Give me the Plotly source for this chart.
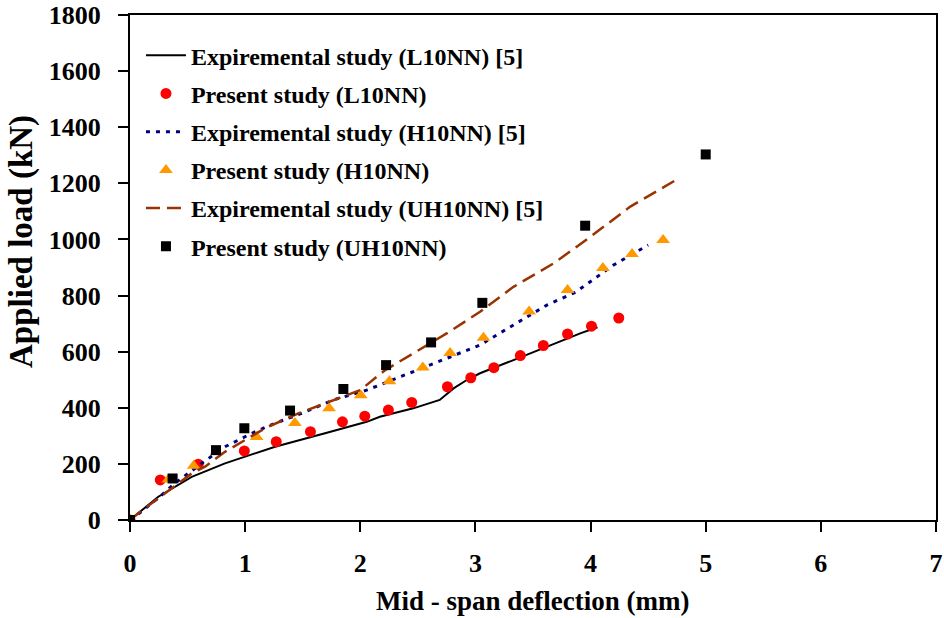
import plotly.graph_objects as go

# Experimental L10NN (solid black)
l10_exp_x = [0, 0.246, 0.536, 0.825, 1.0, 1.26, 1.694, 2.056, 2.17, 2.46, 2.69, 2.81, 2.925, 3.04, 3.33, 3.62, 3.91, 4.06]
l10_exp_y = [0, 83, 154, 202, 226, 261, 309, 350, 368, 398, 428, 469, 499, 523, 570, 618, 665, 687]

# Present study L10NN (red circles)
l10_pre_x = [0, 0.263, 0.593, 0.993, 1.27, 1.567, 1.845, 2.039, 2.244, 2.447, 2.757, 2.96, 3.16, 3.39, 3.59, 3.80, 4.008, 4.245]
l10_pre_y = [0, 143, 199, 246, 279, 315, 350, 370, 392, 419, 475, 507, 543, 586, 622, 663, 691, 720]

# Experimental H10NN (blue dotted)
h10_exp_x = [0, 0.1, 0.275, 0.39, 0.623, 0.825, 1.057, 1.26, 1.49, 1.766, 2.056, 2.2, 2.46, 2.75, 3.04, 3.33, 3.62, 3.87, 4.2, 4.5]
h10_exp_y = [0, 30, 89, 131, 202, 261, 309, 345, 380, 428, 463, 487, 528, 576, 624, 695, 766, 812, 909, 980]

# Present study H10NN (orange triangles)
h10_pre_x = [0, 0.333, 0.553, 0.75, 1.10, 1.432, 1.729, 2.004, 2.253, 2.543, 2.78, 3.07, 3.466, 3.80, 4.107, 4.36, 4.63]
h10_pre_y = [0, 144, 193, 243, 296, 346, 398, 445, 495, 544, 595, 650, 743, 820, 898, 948, 998]

# Experimental UH10NN (brown dashed)
uh10_exp_x = [0, 0.072, 0.536, 0.652, 0.825, 0.97, 1.173, 1.462, 1.65, 2.0, 2.215, 2.46, 2.75, 3.04, 3.33, 3.68, 4.0, 4.345, 4.75]
uh10_exp_y = [0, 24, 166, 190, 243, 279, 327, 380, 410, 463, 534, 594, 665, 742, 831, 915, 1010, 1117, 1214]

# Present study UH10NN (black squares)
uh10_pre_x = [0, 0.37, 0.747, 0.993, 1.39, 1.853, 2.224, 2.615, 3.06, 3.953, 5.0]
uh10_pre_y = [0, 148, 249, 327, 390, 467, 552, 633, 774, 1049, 1303]

x_ticks = [0, 1, 2, 3, 4, 5, 6, 7]
y_ticks = [0, 200, 400, 600, 800, 1000, 1200, 1400, 1600, 1800]

FONT = "Liberation Serif"

fig = go.Figure()
fig.add_trace(go.Scatter(x=l10_exp_x, y=l10_exp_y, mode="lines", name="Expiremental study (L10NN) [5]",
                         line=dict(color="black", width=2), legendgroup="a"))
fig.add_trace(go.Scatter(x=l10_pre_x, y=l10_pre_y, mode="markers", name="Present study (L10NN)",
                         marker=dict(color="#FF0000", size=11, symbol="circle"), legendgroup="b"))
fig.add_trace(go.Scatter(x=h10_exp_x, y=h10_exp_y, mode="lines", name="Expiremental study (H10NN) [5]",
                         line=dict(color="#000080", width=3, dash="4px,6px"), legendgroup="c"))
fig.add_trace(go.Scatter(x=h10_pre_x, y=h10_pre_y, mode="markers", name="Present study (H10NN)",
                         marker=dict(color="#FF9900", size=12, symbol="triangle-up"), legendgroup="d"))
fig.add_trace(go.Scatter(x=uh10_exp_x, y=uh10_exp_y, mode="lines", name="Expiremental study (UH10NN) [5]",
                         line=dict(color="#993300", width=2.5, dash="14px,7px"), legendgroup="e"))
fig.add_trace(go.Scatter(x=uh10_pre_x, y=uh10_pre_y, mode="markers", name="Present study (UH10NN)",
                         marker=dict(color="black", size=10, symbol="square"), legendgroup="f"))

axis_common = dict(showgrid=False, zeroline=False, showline=True, linecolor="black", linewidth=2,
                   mirror=True, ticks="outside", ticklen=10, tickwidth=2, tickcolor="black",
                   automargin=False,
                   tickfont=dict(family=FONT, size=26, color="black", weight="bold"))

fig.update_xaxes(range=[0, 7], tickvals=x_ticks, ticktext=[str(v) for v in x_ticks],
                 ticklabelstandoff=9, **axis_common)
fig.update_yaxes(range=[0, 1800], tickvals=y_ticks, ticktext=[str(v) for v in y_ticks],
                 ticklabelstandoff=12, **axis_common)

fig.update_layout(
    width=944, height=618,
    margin=dict(l=130, r=8, t=15, b=98),
    paper_bgcolor="white", plot_bgcolor="white",
    font=dict(family=FONT, color="black", weight="bold"),
    showlegend=True,
    legend=dict(x=0.0136, y=0.964, xanchor="left", yanchor="top", bgcolor="rgba(0,0,0,0)",
                font=dict(family=FONT, size=24, color="black", weight="bold"),
                tracegroupgap=4, itemwidth=40, traceorder="grouped"),
    annotations=[
        dict(text="Mid - span deflection (mm)", xref="paper", yref="paper", x=0.499, y=-0.160,
             xanchor="center", yanchor="middle", showarrow=False,
             font=dict(family=FONT, size=27, color="black", weight="bold")),
        dict(text="Applied load (kN)", xref="paper", yref="paper", x=-0.134, y=0.5525,
             xanchor="center", yanchor="middle", textangle=-90, showarrow=False,
             font=dict(family=FONT, size=33, color="black", weight="bold")),
    ],
)

fig.write_html("out.html")
